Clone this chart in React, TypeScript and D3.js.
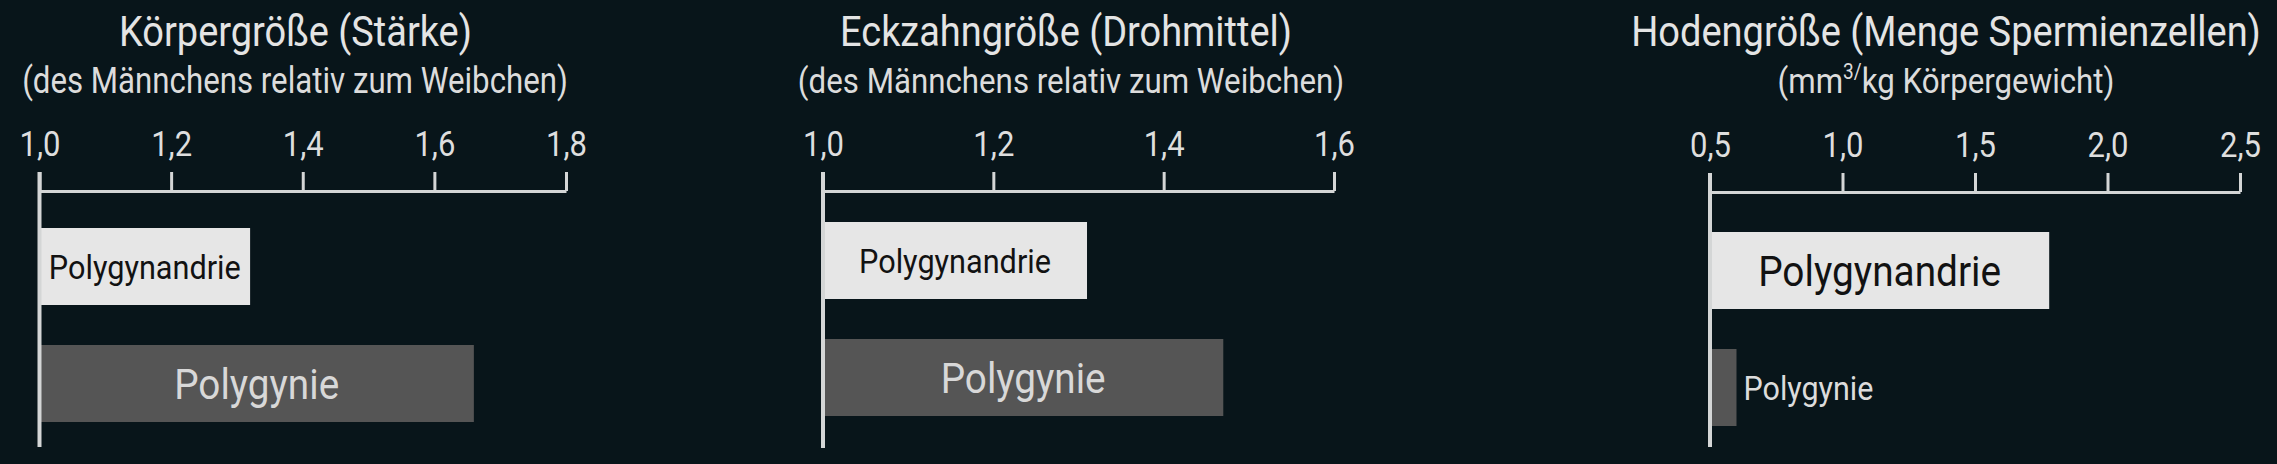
import React, { useEffect, useRef } from "react";
import * as d3 from "d3";

// ---------- data ----------
const categories = ["Polygynandrie", "Polygynie"];
const titles = [
  "Körpergröße (Stärke)",
  "Eckzahngröße (Drohmittel)",
  "Hodengröße (Menge Spermienzellen)",
];
const subtitles = [
  "(des Männchens relativ zum Weibchen)",
  "(des Männchens relativ zum Weibchen)",
  "(mm³/kg Körpergewicht)",
];
const bodyValues = [1.32, 1.66];
const canineValues = [1.31, 1.47];
const testesValues = [1.78, 0.6];
const bodyTicks = [1.0, 1.2, 1.4, 1.6, 1.8];
const canineTicks = [1.0, 1.2, 1.4, 1.6];
const testesTicks = [0.5, 1.0, 1.5, 2.0, 2.5];

// ---------- layout ----------
const W = 2277;
const H = 464;
const BG = "#08151a";
const FONT = "Roboto, 'Noto Sans', sans-serif";
const layouts = [
  { x0: 39.5, x1: 566, axisY: 191, barTop: 228, lineTop: 172, lineBottom: 447, titleX: 295.5, titleW: 353, subX: 295, subW: 546 },
  { x0: 823, x1: 1334, axisY: 191, barTop: 222, lineTop: 172, lineBottom: 448, titleX: 1066, titleW: 452, subX: 1071, subW: 546.5 },
  { x0: 1710, x1: 2240, axisY: 192, barTop: 232, lineTop: 173, lineBottom: 447, titleX: 1946, titleW: 630, subX: 1946, subW: 337 },
];
const labelStyles = {
  small: { size: 34, widths: { Polygynandrie: 192, Polygynie: 130 } as Record<string, number> },
  large: { size: 43, widths: { Polygynandrie: 243, Polygynie: 165 } as Record<string, number> },
};
const barColors = ["#e6e6e6", "#555555"];
const labelColors = ["#121212", "#d8d8d8"];
const TICK_LABEL_W = 41;

const fmt = d3
  .formatLocale({ decimal: ",", thousands: ".", grouping: [3], currency: ["", "€"] })
  .format(".1f");

// condense a text horizontally around its anchor so it spans targetW pixels
function condense(sel: d3.Selection<SVGTextElement, unknown, null, undefined>, x: number, y: number, targetW: number) {
  const node = sel.node() as SVGTextElement;
  const natural = node.getComputedTextLength() || targetW;
  const k = targetW / natural;
  sel.attr("x", 0).attr("y", 0).attr("transform", `translate(${x},${y}) scale(${k},1)`);
}

export default function App() {
  const ref = useRef<SVGSVGElement>(null);

  useEffect(() => {
    document.body.style.margin = "0";
    document.body.style.background = BG;
    const svg = d3.select(ref.current);
    svg.selectAll("*").remove();
    svg.append("rect").attr("width", W).attr("height", H).attr("fill", BG);

    const series = [bodyValues, canineValues, testesValues];
    const tickSets = [bodyTicks, canineTicks, testesTicks];

    series.forEach((vals, i) => {
      const L = layouts[i];
      const ticks = tickSets[i];
      const x = d3.scaleLinear().domain([ticks[0], ticks[ticks.length - 1]]).range([L.x0, L.x1]);
      const step = 117;
      const bh = 77;
      const y = d3
        .scaleBand<string>()
        .domain(categories)
        .range([L.barTop, L.barTop + step * 2 - (step - bh)])
        .paddingInner((step - bh) / step)
        .paddingOuter(0);

      const g = svg.append("g");

      // title
      const t = g
        .append("text")
        .attr("text-anchor", "middle")
        .attr("font-family", FONT)
        .attr("font-size", 42)
        .attr("fill", "#e4e4e4")
        .text(titles[i]);
      condense(t as any, L.titleX, 46, L.titleW);

      // subtitle
      const sub = g
        .append("text")
        .attr("text-anchor", "middle")
        .attr("font-family", FONT)
        .attr("font-size", 36)
        .attr("fill", "#dcdcdc");
      const s = subtitles[i];
      if (s.includes("³")) {
        const [a, b] = s.split("³");
        sub.append("tspan").text(a);
        sub.append("tspan").attr("font-size", 22).attr("dy", -14).text("3");
        const rest = b.startsWith("/") ? b.slice(1) : b;
        sub.append("tspan").attr("font-size", 22).text("/");
        sub.append("tspan").attr("dy", 14).text(rest);
      } else {
        sub.text(s);
      }
      condense(sub as any, L.subX, 93, L.subW);

      // axis
      const axis = d3
        .axisTop(x)
        .tickValues(ticks)
        .tickSize(19)
        .tickSizeOuter(0)
        .tickPadding(16)
        .tickFormat((d) => fmt(d as number));
      const ag = g.append("g").attr("transform", `translate(0,${L.axisY})`).call(axis);
      ag.attr("font-family", null).attr("font-size", null);
      ag.select(".domain").attr("stroke", "#d4d6d6").attr("stroke-width", 3);
      ag.selectAll(".tick line").attr("stroke", "#d4d6d6").attr("stroke-width", 3);
      ag.selectAll<SVGTextElement, number>(".tick text")
        .attr("font-family", FONT)
        .attr("font-size", 36)
        .attr("fill", "#dedede")
        .each(function () {
          const el = d3.select(this);
          const yy = +el.attr("y");
          el.attr("dy", null);
          condense(el as any, 0, yy, TICK_LABEL_W);
        });

      // bars
      const maxV = d3.max(vals) as number;
      categories.forEach((c, j) => {
        const v = vals[j];
        const bx = x(ticks[0]);
        const bw = x(v) - bx;
        const by = y(c) as number;
        g.append("rect")
          .attr("x", bx)
          .attr("y", by)
          .attr("width", bw)
          .attr("height", y.bandwidth())
          .attr("fill", barColors[j]);

        const st = v === maxV ? labelStyles.large : labelStyles.small;
        const lw = st.widths[c];
        const inside = bw > lw + 12;
        const cy = by + y.bandwidth() / 2 + st.size * 0.355;
        const lab = g
          .append("text")
          .attr("text-anchor", inside ? "middle" : "start")
          .attr("font-family", FONT)
          .attr("font-size", st.size)
          .attr("fill", inside ? labelColors[j] : "#dcdcdc")
          .text(c);
        condense(lab as any, inside ? bx + bw / 2 : bx + bw + 7, cy, lw);
      });

      // vertical baseline
      g.append("line")
        .attr("x1", L.x0)
        .attr("x2", L.x0)
        .attr("y1", L.lineTop)
        .attr("y2", L.lineBottom)
        .attr("stroke", "#d4d6d6")
        .attr("stroke-width", 4);
    });
  }, []);

  return <svg ref={ref} width={W} height={H} style={{ display: "block" }} />;
}
